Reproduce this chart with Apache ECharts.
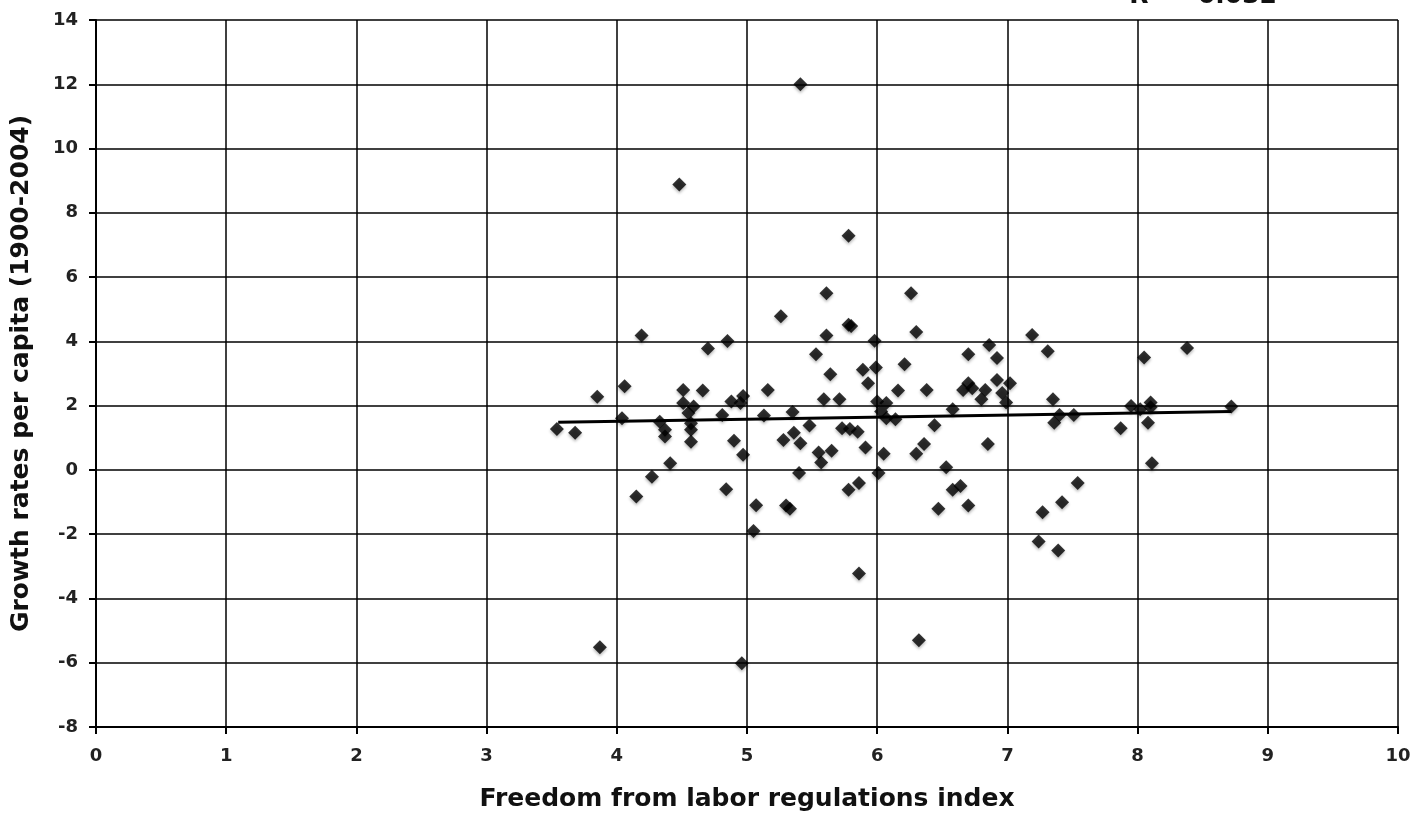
<!DOCTYPE html>
<html>
<head>
<meta charset="utf-8">
<script src="https://cdn.jsdelivr.net/npm/echarts@6/dist/echarts.min.js"></script>
<style>
  html, body { margin: 0; padding: 0; background: #fff; }
  #chart { width: 1427px; height: 817px; }
</style>
</head>
<body>
<div id="chart"></div>
<script>
// Labor-regulation freedom index (x) vs. per-capita growth rate (y), one entry per country
const freedomIndex = [
  3.54, 3.68, 3.85, 3.87, 4.04, 4.06, 4.15, 4.19, 4.27, 4.33, 4.37, 4.37, 4.41, 4.48, 4.51, 4.51, 4.55,
  4.57, 4.57, 4.57, 4.59, 4.66, 4.70, 4.81, 4.84, 4.85, 4.88, 4.90, 4.96, 4.97, 4.95, 4.97, 5.05, 5.07,
  5.13, 5.16, 5.26, 5.28, 5.30, 5.33, 5.35, 5.36, 5.41, 5.40, 5.41, 5.48, 5.53, 5.55, 5.57, 5.59, 5.61,
  5.61, 5.64, 5.65, 5.71, 5.73, 5.78, 5.80, 5.78, 5.78, 5.79, 5.85, 5.86, 5.86, 5.89, 5.91, 5.93, 5.98,
  5.99, 6.00, 6.01, 6.03, 6.05, 6.07, 6.07, 6.14, 6.16, 6.21, 6.26, 6.30, 6.30, 6.32, 6.36, 6.38, 6.44,
  6.47, 6.53, 6.58, 6.58, 6.64, 6.66, 6.70, 6.70, 6.70, 6.73, 6.80, 6.83, 6.85, 6.86, 6.92, 6.92, 6.96,
  6.99, 7.02, 7.19, 7.24, 7.27, 7.31, 7.35, 7.36, 7.39, 7.40, 7.42, 7.51, 7.54, 7.87, 7.95, 8.02, 8.05,
  8.08, 8.10, 8.10, 8.11, 8.38, 8.72
];
const growthRate = [
  1.27, 1.16, 2.28, -5.52, 1.61, 2.60, -0.83, 4.18, -0.21, 1.50, 1.25, 1.04, 0.21, 8.88, 2.49, 2.08, 1.77,
  1.45, 1.25, 0.88, 1.97, 2.47, 3.78, 1.71, -0.60, 4.01, 2.13, 0.91, -6.02, 2.30, 2.08, 0.47, -1.90, -1.10,
  1.69, 2.49, 4.78, 0.93, -1.11, -1.21, 1.80, 1.16, 0.83, -0.10, 12.00, 1.38, 3.60, 0.54, 0.23, 2.20, 5.50,
  4.18, 2.98, 0.60, 2.20, 1.30, 4.52, 4.48, 7.29, -0.62, 1.27, 1.19, -0.41, -3.22, 3.12, 0.70, 2.70, 4.02,
  3.19, 2.13, -0.10, 1.82, 0.50, 2.08, 1.61, 1.58, 2.47, 3.29, 5.50, 4.29, 0.50, -5.30, 0.81, 2.49, 1.39,
  -1.21, 0.08, 1.89, -0.62, -0.50, 2.49, 2.70, 3.60, -1.11, 2.54, 2.20, 2.49, 0.81, 3.89, 3.48, 2.80, 2.39,
  2.10, 2.70, 4.20, -2.23, -1.32, 3.69, 2.20, 1.47, -2.51, 1.71, -1.01, 1.71, -0.41, 1.30, 1.99, 1.89, 3.50,
  1.47, 2.10, 1.95, 0.21, 3.79, 1.97
];

// Linear trend line end points
const trendX = [3.55, 8.72];
const trendY = [1.48, 1.82];
const rSquaredLabel = 'R² = 0.032';

const xTitle = 'Freedom from labor regulations index';
const yTitle = 'Growth rates per capita (1900-2004)';

const points = freedomIndex.map((x, i) => [x, growthRate[i]]);
const trend = trendX.map((x, i) => [x, trendY[i]]);

const FONT = '"DejaVu Sans", Verdana, sans-serif';

const chart = echarts.init(document.getElementById('chart'), null, { renderer: 'canvas' });
chart.setOption({
  backgroundColor: '#ffffff',
  animation: false,
  grid: { left: 96, right: 29, top: 20, bottom: 90 },
  xAxis: {
    type: 'value',
    min: 0, max: 10, interval: 1,
    name: xTitle,
    nameLocation: 'middle',
    nameGap: 60,
    nameTextStyle: { fontFamily: FONT, fontSize: 25, fontWeight: 'bold', color: '#111' },
    axisLine: { show: true, onZero: false, lineStyle: { color: '#000', width: 2 } },
    axisTick: { show: true, length: 7, lineStyle: { color: '#000', width: 2 } },
    axisLabel: { fontFamily: FONT, fontSize: 18, fontWeight: 'bold', color: '#222', margin: 20 },
    splitLine: { show: true, lineStyle: { color: '#000', width: 1.5 } }
  },
  yAxis: {
    type: 'value',
    min: -8, max: 14, interval: 2,
    name: yTitle,
    nameLocation: 'middle',
    nameGap: 62,
    nameRotate: 90,
    nameTextStyle: { fontFamily: FONT, fontSize: 25, fontWeight: 'bold', color: '#111' },
    axisLine: { show: true, onZero: false, lineStyle: { color: '#000', width: 2 } },
    axisTick: { show: true, length: 7, lineStyle: { color: '#000', width: 2 } },
    axisLabel: { fontFamily: FONT, fontSize: 18, fontWeight: 'bold', color: '#222', margin: 18 },
    splitLine: { show: true, lineStyle: { color: '#000', width: 1.5 } }
  },
  graphic: [{
    type: 'text',
    right: 150,
    top: -16,
    style: {
      text: rSquaredLabel,
      fontFamily: FONT,
      fontSize: 25,
      fontWeight: 'bold',
      fill: '#111'
    }
  }],
  series: [
    {
      type: 'scatter',
      data: points,
      symbol: 'diamond',
      symbolSize: 14,
      itemStyle: {
        color: '#000',
        shadowColor: 'rgba(0,0,0,0.35)',
        shadowBlur: 3,
        shadowOffsetY: 2
      },
      z: 3
    },
    {
      type: 'line',
      data: trend,
      showSymbol: false,
      symbol: 'none',
      lineStyle: { color: '#000', width: 3 },
      z: 4
    }
  ]
});
</script>
</body>
</html>
